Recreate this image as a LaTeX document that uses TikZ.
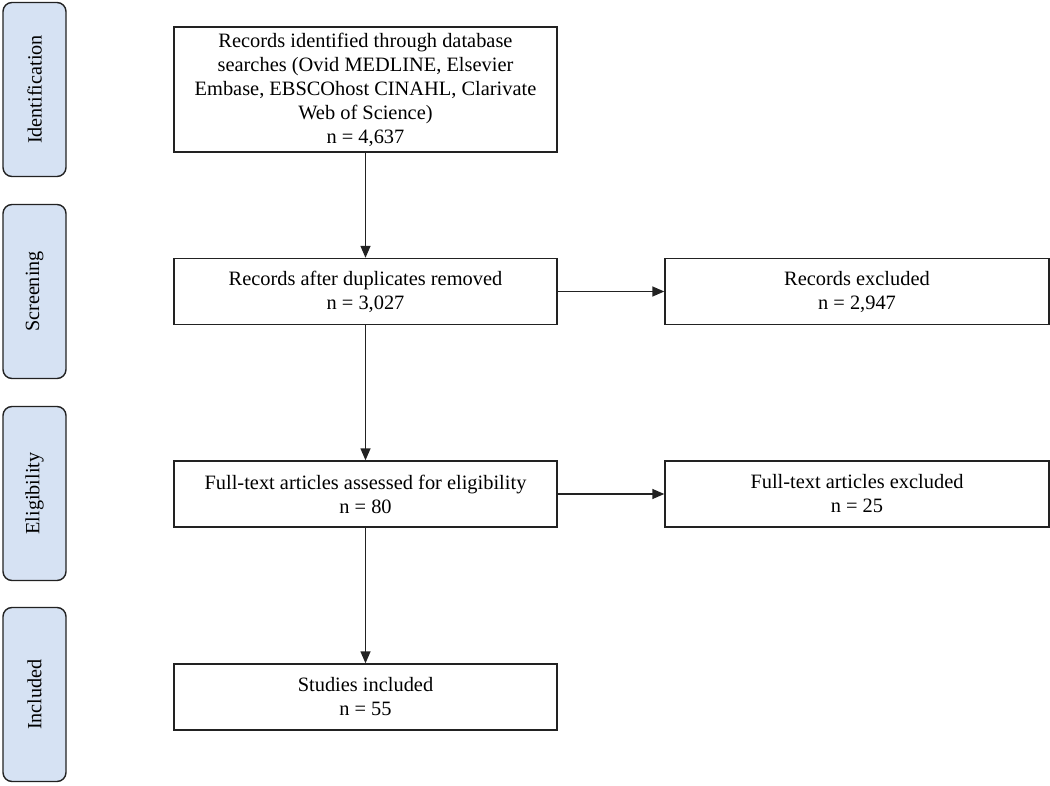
\documentclass[tikz,border=0pt]{standalone}
\usepackage{fontspec}
\setmainfont{Liberation Serif}
\usetikzlibrary{arrows.meta}
\definecolor{phasefill}{HTML}{D6E2F3}
\definecolor{edge}{HTML}{222222}
\begin{document}
\begin{tikzpicture}[x=1pt,y=-1pt,
  box/.style={draw=edge, line width=1.4pt, fill=white, align=center, inner sep=0pt,
    font=\fontsize{20.4}{24}\selectfont},
  phase/.style={draw=edge, line width=1.4pt, fill=phasefill, rounded corners=9pt,
    minimum width=63pt, minimum height=174pt, inner sep=0pt},
  phasetext/.style={rotate=90, font=\fontsize{20.2}{24}\selectfont},
  flow/.style={draw=edge, line width=1.4pt, -{Triangle[length=12pt,width=10pt]}}]
\useasboundingbox (0,0) rectangle (1050,786);
% phase labels
\node[phase] (pid) at (34.5,89.5) {};
\node[phasetext] (tid) at (pid.center) {Identification};
\node[phase] (psc) at (34.5,291.5) {};
\node[phasetext] (tsc) at (psc.center) {Screening};
\node[phase] (pel) at (34.5,493.5) {};
\node[phasetext] (tel) at (pel.center) {Eligibility};
\node[phase] (pin) at (34.5,694.5) {};
\node[phasetext] (tin) at (pin.center) {Included};
% boxes
\node[box, minimum width=383pt, minimum height=125pt] (ident) at (365.5,89.5)
  {Records identified through database\\ searches (Ovid MEDLINE, Elsevier\\ Embase, EBSCOhost CINAHL, Clarivate\\ Web of Science)\\ n = 4,637};
\node[box, minimum width=383pt, minimum height=66pt] (dup) at (365.5,291.5)
  {Records after duplicates removed\\ n = 3,027};
\node[box, minimum width=384pt, minimum height=66pt] (excl) at (857,291.5)
  {Records excluded\\ n = 2,947};
\node[box, minimum width=383pt, minimum height=66pt] (full) at (365.5,494)
  {Full-text articles assessed for eligibility\\ n = 80};
\node[box, minimum width=384pt, minimum height=66pt] (fexcl) at (857,494)
  {Full-text articles excluded\\ n = 25};
\node[box, minimum width=383pt, minimum height=66pt] (incl) at (365.5,697)
  {Studies included\\ n = 55};
% connectors
\draw[flow] (ident) -- (dup);
\draw[flow] (dup) -- (full);
\draw[flow] (full) -- (incl);
\draw[flow] (dup) -- (excl);
\draw[flow] (full) -- (fexcl);
\end{tikzpicture}
\end{document}
